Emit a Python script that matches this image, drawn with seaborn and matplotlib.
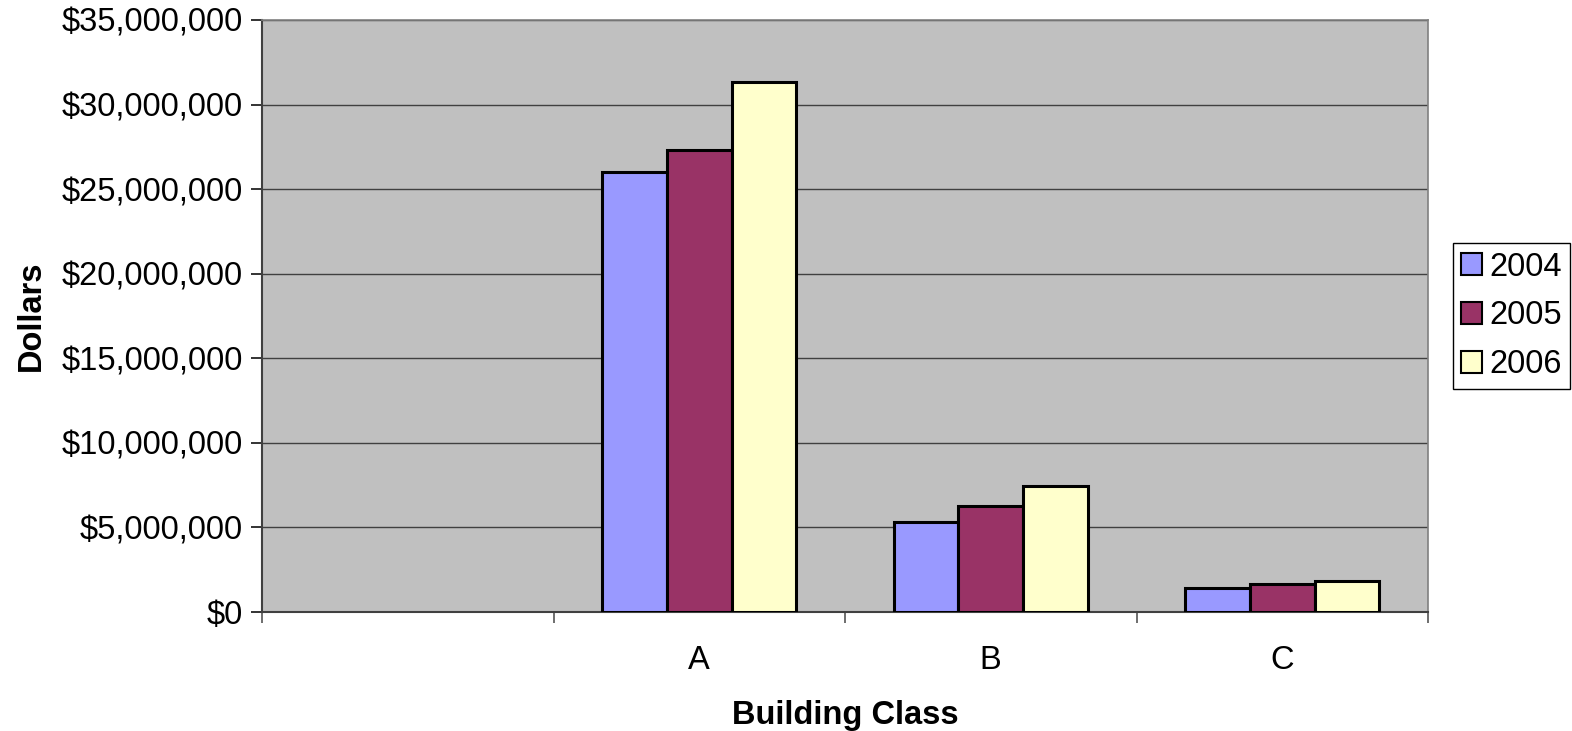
import matplotlib
matplotlib.use("Agg")
import matplotlib.pyplot as plt
from matplotlib.ticker import FuncFormatter, FixedLocator
import pandas as pd
import seaborn as sns

# Assessed value by building class and year
classes = ["A", "B", "C"]
years = ["2004", "2005", "2006"]
values_2004 = [26_000_000, 5_300_000, 1_440_000]
values_2005 = [27_300_000, 6_270_000, 1_640_000]
values_2006 = [31_330_000, 7_470_000, 1_850_000]

slot_order = [" "] + classes  # leading empty category slot
palette = ["#9999FF", "#993366", "#FFFFCC"]

df = pd.DataFrame({
    "Building Class": classes * 3,
    "Year": [y for y in years for _ in classes],
    "Dollars": values_2004 + values_2005 + values_2006,
})

sns.set_theme(style="white")
plt.rcParams["font.family"] = ["Liberation Sans", "DejaVu Sans"]
plt.rcParams["text.color"] = "black"
plt.rcParams["axes.labelcolor"] = "black"
plt.rcParams["xtick.color"] = "black"
plt.rcParams["ytick.color"] = "black"

FS = 23.5

fig = plt.figure(figsize=(15.72, 7.31), dpi=100)
ax = fig.add_axes([262 / 1572, 1 - 612 / 731, (1428 - 262) / 1572, (612 - 20) / 731])
ax.set_facecolor("#C0C0C0")

sns.barplot(data=df, x="Building Class", y="Dollars", hue="Year",
            order=slot_order, hue_order=years, palette=palette,
            width=0.667, gap=0, saturation=1, edgecolor="black",
            linewidth=2.2, errorbar=None, ax=ax, zorder=3)

ax.set_xlim(-0.5, len(slot_order) - 0.5)
ax.set_ylim(0, 35_000_000)
ax.set_yticks(range(0, 35_000_001, 5_000_000))
ax.yaxis.set_major_formatter(FuncFormatter(lambda v, p: f"${v:,.0f}"))
ax.grid(axis="y", color="#404040", linewidth=1.0, zorder=0)
ax.set_axisbelow(True)

# category labels at slot centres, tick marks at slot boundaries
ax.set_xticks(range(len(slot_order)))
ax.set_xticklabels(slot_order)
ax.xaxis.set_minor_locator(FixedLocator([i - 0.5 for i in range(len(slot_order) + 1)]))
ax.tick_params(axis="x", which="major", length=0, pad=24, labelsize=FS)
ax.tick_params(axis="x", which="minor", length=8, width=1.2, color="#555555", bottom=True)
ax.tick_params(axis="y", length=8, width=1.2, color="#111111", left=True, labelsize=FS, pad=6)

for side in ["top", "right"]:
    ax.spines[side].set_color("#808080")
    ax.spines[side].set_linewidth(1.2)
ax.spines["left"].set_color("#404040")
ax.spines["left"].set_linewidth(1.5)
ax.spines["bottom"].set_color("#404040")
ax.spines["bottom"].set_linewidth(1.5)

ax.set_xlabel("Building Class", fontsize=FS, fontweight="bold", labelpad=17)
ax.set_ylabel("Dollars", fontsize=FS, fontweight="bold", labelpad=10)

leg = ax.legend(loc="center left", bbox_to_anchor=(1.0215, 0.5), fontsize=FS,
                frameon=True, fancybox=False, edgecolor="black", framealpha=1,
                handlelength=0.65, handleheight=0.65, handletextpad=0.2,
                borderpad=0.25, labelspacing=0.55, borderaxespad=0)
leg.get_frame().set_linewidth(1.0)
for h in leg.legend_handles:
    h.set_linewidth(1.5)

fig.savefig("out.png", dpi=100)
